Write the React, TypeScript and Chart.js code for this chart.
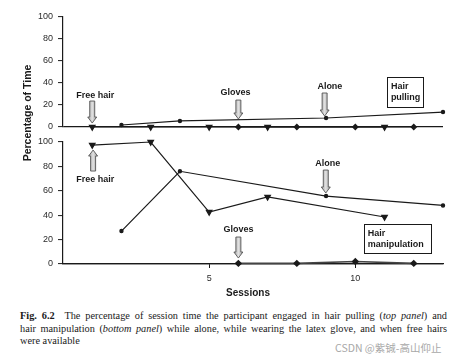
import React, { useEffect, useRef } from 'react';
import { Chart, registerables } from 'chart.js';

Chart.register(...registerables);

// ---- data ----
const freeSessions = [1, 3, 5, 7, 11];
const gloveSessions = [6, 8, 10, 12];
const aloneSessions = [2, 4, 9, 13];

const pullingFree = [0, 0, 0, 0, 0];
const pullingGloves = [0, 0, 0, 0];
const pullingAlone = [1.8, 5.5, 8.2, 13.6];

const manipFree = [97.5, 100, 42.6, 55, 38.5];
const manipGloves = [0.5, 0.5, 2, 0.5];
const manipAlone = [27, 76, 55.7, 48];

const yTickValues = [0, 20, 40, 60, 80, 100];
const xTickValues = [5, 10];

// ---- annotations (data coordinates) ----
const textNotes = [
  { axis: 'yTop', x: 1.1, y: 28.2, text: 'Free hair' },
  { axis: 'yTop', x: 5.9, y: 30.9, text: 'Gloves' },
  { axis: 'yTop', x: 9.13, y: 36.4, text: 'Alone' },
  { axis: 'yBot', x: 1.1, y: 68.9, text: 'Free hair' },
  { axis: 'yBot', x: 6.0, y: 27.9, text: 'Gloves' },
  { axis: 'yBot', x: 9.06, y: 82, text: 'Alone' },
];

const arrowNotes = [
  { axis: 'yTop', x: 1.0, from: 23.6, to: 3.6 },
  { axis: 'yTop', x: 6.0, from: 24.5, to: 7.3 },
  { axis: 'yTop', x: 8.95, from: 30.9, to: 10 },
  { axis: 'yBot', x: 1.03, from: 76.2, to: 93.4 },
  { axis: 'yBot', x: 6.0, from: 22.1, to: 4.9 },
  { axis: 'yBot', x: 8.99, from: 77, to: 58.2 },
];

const boxNotes = [
  { axis: 'yTop', x0: 11.08, x1: 12.32, y0: 45.5, y1: 18.2, lines: ['Hair', 'pulling'] },
  { axis: 'yBot', x0: 10.29, x1: 12.59, y0: 32.8, y1: 9.0, lines: ['Hair', 'manipulation'] },
];

const INK = '#1a1a1a';
const SANS = '"Liberation Sans", Arial, Helvetica, sans-serif';

const pts = (xs: number[], ys: number[]) => xs.map((x, i) => ({ x, y: ys[i] }));

const annotationPlugin = {
  id: 'figNotes',
  afterDatasetsDraw(chart: any) {
    const { ctx, scales } = chart;
    const xs = scales.x;
    ctx.save();

    // arrows
    arrowNotes.forEach((a) => {
      const ys = scales[a.axis];
      const px = xs.getPixelForValue(a.x);
      const y0 = ys.getPixelForValue(a.from);
      const y1 = ys.getPixelForValue(a.to);
      const dir = y1 > y0 ? 1 : -1;
      const headLen = 6;
      const shaftHalf = 2.5;
      const headHalf = 4.5;
      const yh = y1 - dir * headLen;
      ctx.beginPath();
      ctx.moveTo(px - shaftHalf, y0);
      ctx.lineTo(px + shaftHalf, y0);
      ctx.lineTo(px + shaftHalf, yh);
      ctx.lineTo(px + headHalf, yh);
      ctx.lineTo(px, y1);
      ctx.lineTo(px - headHalf, yh);
      ctx.lineTo(px - shaftHalf, yh);
      ctx.closePath();
      const g = ctx.createLinearGradient(px - headHalf, 0, px + headHalf, 0);
      g.addColorStop(0, '#9a9a9a');
      g.addColorStop(0.5, '#e2e2e2');
      g.addColorStop(1, '#9a9a9a');
      ctx.fillStyle = g;
      ctx.fill();
      ctx.strokeStyle = '#555';
      ctx.lineWidth = 0.9;
      ctx.stroke();
    });

    // texts
    ctx.fillStyle = INK;
    ctx.font = `bold 9px ${SANS}`;
    ctx.textAlign = 'center';
    ctx.textBaseline = 'middle';
    textNotes.forEach((t) => {
      const ys = scales[t.axis];
      ctx.fillText(t.text, xs.getPixelForValue(t.x), ys.getPixelForValue(t.y));
    });

    // boxes
    boxNotes.forEach((b) => {
      const ys = scales[b.axis];
      const l = xs.getPixelForValue(b.x0);
      const r = xs.getPixelForValue(b.x1);
      const t = ys.getPixelForValue(b.y0);
      const btm = ys.getPixelForValue(b.y1);
      ctx.fillStyle = '#fff';
      ctx.fillRect(l, t, r - l, btm - t);
      ctx.strokeStyle = INK;
      ctx.lineWidth = 1;
      ctx.strokeRect(Math.round(l) + 0.5, Math.round(t) + 0.5, Math.round(r - l), Math.round(btm - t));
      ctx.fillStyle = INK;
      ctx.textAlign = 'left';
      b.lines.forEach((line, i) => {
        ctx.fillText(line, l + 4, t + 10 + i * 10.5);
      });
    });

    // axis titles
    ctx.font = `bold 10.5px ${SANS}`;
    ctx.textAlign = 'center';
    ctx.save();
    ctx.translate(28, 113);
    ctx.rotate(-Math.PI / 2);
    ctx.fillText('Percentage of Time', 0, 0);
    ctx.restore();
    ctx.font = `bold 10px ${SANS}`;
    ctx.fillText('Sessions', 248, 293);

    ctx.restore();
  },
};

const lineBase = {
  borderColor: INK,
  backgroundColor: INK,
  pointBorderColor: INK,
  pointBackgroundColor: INK,
  borderWidth: 1.2,
  tension: 0,
  clip: false as const,
};

const triangle = { pointStyle: 'triangle', pointRotation: 180, pointRadius: 3.2 };
const diamond = { pointStyle: 'rectRot', pointRadius: 2.6 };
const dot = { pointStyle: 'circle', pointRadius: 1.6 };

function yScale(weight: number, sw: number) {
  return {
    type: 'linear',
    position: 'left',
    stack: 'panels',
    stackWeight: sw,
    weight,
    min: 0,
    max: 100,
    afterBuildTicks: (s: any) => {
      s.ticks = yTickValues.map((v) => ({ value: v }));
    },
    afterFit: (s: any) => {
      s.width = 40;
    },
    ticks: {
      font: { family: SANS, size: 9 },
      color: '#2a2a2a',
      padding: 5,
      autoSkip: false,
    },
    grid: {
      drawOnChartArea: true,
      drawTicks: true,
      tickLength: 5,
      color: (c: any) => (c.tick && c.tick.value === 0 ? INK : 'rgba(0,0,0,0)'),
      tickColor: INK,
      lineWidth: 1.2,
      tickWidth: 1,
    },
    border: { display: true, color: INK, width: 1.2 },
  };
}

export default function App() {
  const ref = useRef<HTMLCanvasElement>(null);

  useEffect(() => {
    if (!ref.current) return;
    const chart = new Chart(ref.current, {
      type: 'line',
      data: {
        datasets: [
          { ...lineBase, ...triangle, label: 'Pulling free hair', data: pts(freeSessions, pullingFree), yAxisID: 'yTop' },
          { ...lineBase, ...diamond, label: 'Pulling gloves', data: pts(gloveSessions, pullingGloves), yAxisID: 'yTop' },
          { ...lineBase, ...dot, label: 'Pulling alone', data: pts(aloneSessions, pullingAlone), yAxisID: 'yTop' },
          { ...lineBase, ...triangle, label: 'Manip free hair', data: pts(freeSessions, manipFree), yAxisID: 'yBot' },
          { ...lineBase, ...diamond, label: 'Manip gloves', data: pts(gloveSessions, manipGloves), yAxisID: 'yBot', borderColor: '#444', borderWidth: 1.6 },
          { ...lineBase, ...dot, label: 'Manip alone', data: pts(aloneSessions, manipAlone), yAxisID: 'yBot' },
        ] as any,
      },
      options: {
        animation: false,
        responsive: false,
        maintainAspectRatio: false,
        layout: { padding: { top: 17, left: 23, right: 16, bottom: 16 } },
        plugins: { legend: { display: false }, tooltip: { enabled: false }, title: { display: false } },
        scales: {
          x: {
            type: 'linear',
            position: 'bottom',
            min: 0,
            max: 13,
            afterBuildTicks: (s: any) => {
              s.ticks = xTickValues.map((v) => ({ value: v }));
            },
            afterFit: (s: any) => {
              s.height = 20;
            },
            ticks: {
              font: { family: SANS, size: 9 },
              color: '#2a2a2a',
              padding: 5,
              maxRotation: 0,
              autoSkip: false,
            },
            grid: { drawOnChartArea: false, drawTicks: true, tickLength: 4, color: INK },
            border: { display: true, color: INK, width: 1.2 },
          },
          yTop: yScale(3, 110) as any,
          gap: {
            type: 'linear',
            position: 'left',
            stack: 'panels',
            stackWeight: 15,
            weight: 2,
            min: 0,
            max: 1,
            ticks: { display: false },
            grid: { display: false, drawTicks: false },
            border: { display: false },
          } as any,
          yBot: yScale(1, 122) as any,
        },
      },
      plugins: [annotationPlugin],
    });
    return () => chart.destroy();
  }, []);

  return (
    <div style={{ position: 'absolute', left: 0, top: 0, width: 459, height: 362, background: '#fff' }}>
      <canvas ref={ref} width={459} height={300} style={{ position: 'absolute', left: 0, top: 0, width: 459, height: 300 }} />
      <div
        style={{
          position: 'absolute',
          left: 20,
          top: 310,
          width: 427,
          fontFamily: '"Liberation Serif", "Times New Roman", serif',
          fontSize: 10.3,
          lineHeight: '12.5px',
          color: '#1a1a1a',
        }}
      >
        <div style={{ textAlign: 'justify', textAlignLast: 'justify', whiteSpace: 'nowrap' as const }}>
          <b>Fig. 6.2</b>&nbsp;&nbsp;The percentage of session time the participant engaged in hair pulling (<i>top panel</i>) and
        </div>
        <div style={{ textAlign: 'justify', textAlignLast: 'justify', whiteSpace: 'nowrap' as const }}>
          hair manipulation (<i>bottom panel</i>) while alone, while wearing the latex glove, and when free hairs
        </div>
        <div>were available</div>
      </div>
      <div
        style={{
          position: 'absolute',
          left: 335,
          top: 340,
          fontFamily: '"Noto Sans CJK SC", "Noto Sans", sans-serif',
          fontSize: 10.5,
          color: '#a8a8a8',
          whiteSpace: 'nowrap',
        }}
      >
        CSDN @紫铖-高山仰止
      </div>
    </div>
  );
}
